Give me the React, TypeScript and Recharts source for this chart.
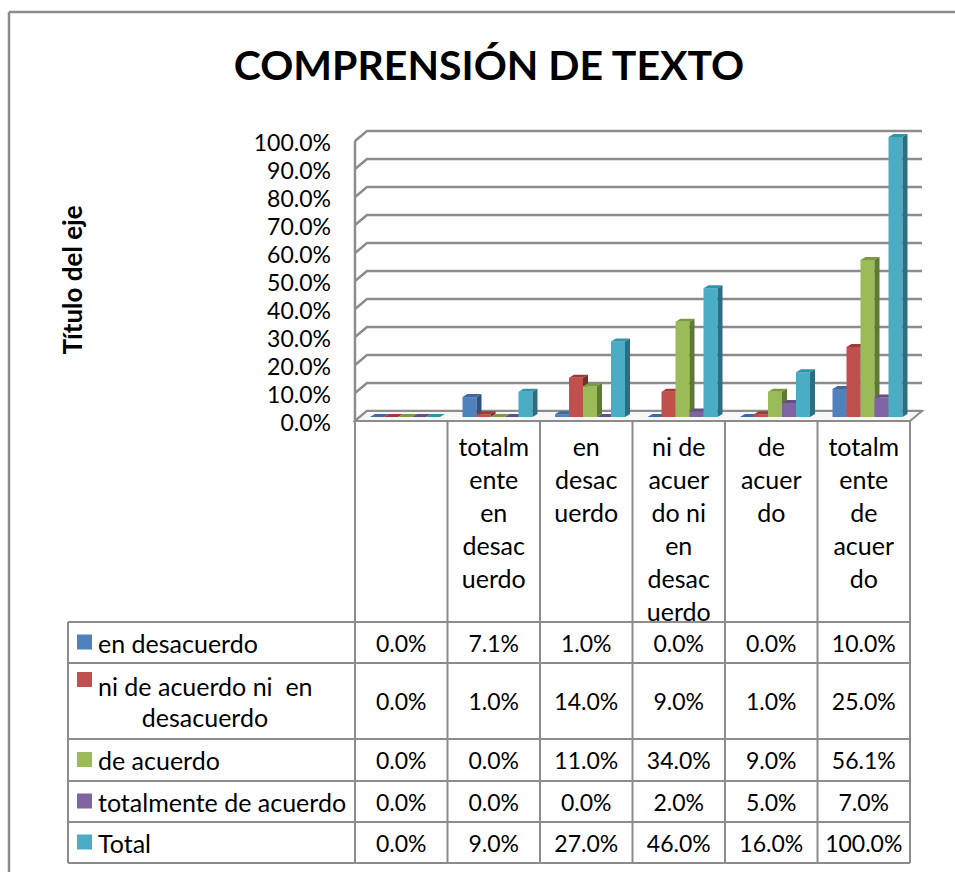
import React from 'react';
import { BarChart, Bar, XAxis, YAxis, CartesianGrid, ReferenceArea } from 'recharts';

const categories = ['', 'totalmente en desacuerdo', 'en desacuerdo', 'ni de acuerdo ni en desacuerdo', 'de acuerdo', 'totalmente de acuerdo'];
const categoryLabelLines = [
  [],
  ['totalm', 'ente', 'en', 'desac', 'uerdo'],
  ['en', 'desac', 'uerdo'],
  ['ni de', 'acuer', 'do ni', 'en', 'desac', 'uerdo'],
  ['de', 'acuer', 'do'],
  ['totalm', 'ente', 'de', 'acuer', 'do'],
];
const seriesNames = ['en desacuerdo', 'ni de acuerdo ni  en desacuerdo', 'de acuerdo', 'totalmente de acuerdo', 'Total'];
const legendLines = [['en desacuerdo'], ['ni de acuerdo ni  en', 'desacuerdo'], ['de acuerdo'], ['totalmente de acuerdo'], ['Total']];

const enDesacuerdo = [0, 7.1, 1.0, 0, 0, 10.0];
const niDeAcuerdoNiEnDesacuerdo = [0, 1.0, 14.0, 9.0, 1.0, 25.0];
const deAcuerdo = [0, 0, 11.0, 34.0, 9.0, 56.1];
const totalmenteDeAcuerdo = [0, 0, 0, 2.0, 5.0, 7.0];
const total = [0, 9.0, 27.0, 46.0, 16.0, 100.0];
const seriesValues = [enDesacuerdo, niDeAcuerdoNiEnDesacuerdo, deAcuerdo, totalmenteDeAcuerdo, total];

const yTicks = [0, 10, 20, 30, 40, 50, 60, 70, 80, 90, 100];

const colors = ['#4F81BD', '#C0504D', '#9BBB59', '#8064A2', '#4BACC6'];
const topColors = ['#3E6A9E', '#9E3B38', '#7C9A42', '#654E85', '#3690A8'];
const sideColors = ['#2F5281', '#7D2B29', '#5F7832', '#4C3A66', '#2A6F82'];

const data = categories.map((c, i) => {
  const row: any = { cat: c };
  seriesValues.forEach((s, k) => { row['s' + k] = s[i]; });
  return row;
});

const FONT = 'Lato, "Open Sans", sans-serif';
const GRID = '#8c8c8c';
const LEFT = 355, RIGHT = 910, TOP = 137, BOTTOM = 417;
const W = 955, H = 872;
const colW = (RIGHT - LEFT) / categories.length;
const rowLines = [622, 663, 739, 781, 822, 863];

const makeShape = (k: number) => (props: any) => {
  const { x, y, width, height } = props;
  if (x == null || y == null) return <g />;
  const X = x + 4;
  const w = width;
  const h = Math.max(height || 0, 0);
  const t = y;
  const base = y + h;
  const dx = 5, dy = 3;
  return (
    <g>
      {h > 0 && <rect x={X} y={t} width={w} height={h} fill={colors[k]} />}
      <polygon points={`${X},${t} ${X + dx},${t - dy} ${X + w + dx},${t - dy} ${X + w},${t}`} fill={topColors[k]} />
      {h > 0 && <polygon points={`${X + w},${t} ${X + w + dx},${t - dy} ${X + w + dx},${base - dy} ${X + w},${base}`} fill={sideColors[k]} />}
    </g>
  );
};

const gridLine = (p: any) => {
  const { x1, x2, y1, key } = p;
  return (
    <path key={key} d={`M${x1},${y1 + 4} L${x1 + 12},${y1 - 6} L${x2 + 12},${y1 - 6}`} stroke={GRID} strokeWidth={2.5} fill="none" />
  );
};

const Frame = (p: any) => {
  const { x, y, width, height } = p;
  const b = y + height;
  return (
    <g>
      <line x1={x} y1={y + 4} x2={x} y2={b + 4} stroke={GRID} strokeWidth={2.5} />
      <polygon points={`${x},${b + 4} ${x + width},${b + 4} ${x + width + 12},${b - 6} ${x + 12},${b - 6}`} fill="#f7f7f7" stroke={GRID} strokeWidth={2} />
    </g>
  );
};

const YTick = (p: any) => {
  const { y, payload } = p;
  return (
    <text x={331} y={y + 5} textAnchor="end" dominantBaseline="central" fontFamily={FONT} fontSize={23} fill="#000">
      {payload.value.toFixed(1) + '%'}
    </text>
  );
};

export default function App() {
  return (
    <div style={{ position: 'absolute', left: 0, top: 0, width: W, height: H, background: '#fff', overflow: 'hidden' }}>
      <div style={{ position: 'absolute', left: 0, top: 0 }}>
        <BarChart width={W} height={H} data={data} barSize={14} barGap={0}
          margin={{ top: TOP, bottom: H - BOTTOM, left: LEFT - 120, right: W - RIGHT }}>
          <CartesianGrid vertical={false} horizontal={gridLine} />
          <XAxis dataKey="cat" hide />
          <YAxis width={120} domain={[0, 100]} ticks={yTicks} tick={<YTick />} tickLine={false} axisLine={false} />
          <ReferenceArea y1={0} y2={100} shape={<Frame />} />
          {seriesNames.map((n, k) => (
            <Bar key={n} dataKey={'s' + k} name={n} fill={colors[k]} isAnimationActive={false} shape={makeShape(k)} />
          ))}
        </BarChart>
      </div>
      <svg width={W} height={H} style={{ position: 'absolute', left: 0, top: 0, pointerEvents: 'none' }}>
        <line x1={9} y1={12} x2={W} y2={12} stroke={GRID} strokeWidth={2.5} />
        <line x1={9} y1={12} x2={9} y2={H} stroke={GRID} strokeWidth={2.5} />
        <text x={489} y={64} textAnchor="middle" dominantBaseline="central" fontFamily={FONT} fontWeight="bold" fontSize={41} fill="#000">
          COMPRENSIÓN DE TEXTO
        </text>
        <text x={72} y={280} textAnchor="middle" dominantBaseline="central" fontFamily={FONT} fontWeight="bold" fontSize={26} fill="#000" transform="rotate(-90 72 280)">
          Título del eje
        </text>
        {categories.map((c, i) => (
          <line key={'v' + i} x1={LEFT + i * colW} y1={421} x2={LEFT + i * colW} y2={rowLines[rowLines.length - 1]} stroke={GRID} strokeWidth={2} />
        ))}
        <line x1={RIGHT} y1={421} x2={RIGHT} y2={rowLines[rowLines.length - 1]} stroke={GRID} strokeWidth={2} />
        <line x1={68} y1={rowLines[0]} x2={68} y2={rowLines[rowLines.length - 1]} stroke={GRID} strokeWidth={2} />
        {rowLines.map((y, i) => (
          <line key={'h' + i} x1={68} y1={y} x2={RIGHT} y2={y} stroke={GRID} strokeWidth={2} />
        ))}
        {categoryLabelLines.map((lines, i) => lines.map((ln, j) => (
          <text key={'c' + i + '-' + j} x={LEFT + (i + 0.5) * colW} y={446 + j * 33} textAnchor="middle" dominantBaseline="central" fontFamily={FONT} fontSize={25} fill="#000">{ln}</text>
        )))}
        {seriesNames.map((n, k) => {
          const y0 = rowLines[k], y1 = rowLines[k + 1];
          const cy = (y0 + y1) / 2;
          const lines = legendLines[k];
          return (
            <g key={'r' + k}>
              <rect x={77} y={lines.length > 1 ? 672 : cy - 8} width={15} height={15} fill={colors[k]} />
              {lines.length === 1 ? (
                <text x={98} y={cy} dominantBaseline="central" fontFamily={FONT} fontSize={25} fill="#000">{lines[0]}</text>
              ) : (
                lines.map((ln, j) => (
                  <text key={j} x={j === 0 ? 98 : 205} y={cy - 15 + j * 31} textAnchor={j === 0 ? 'start' : 'middle'} dominantBaseline="central" fontFamily={FONT} fontSize={25} fill="#000" style={{ whiteSpace: 'pre' }}>{ln}</text>
                ))
              )}
              {seriesValues[k].map((v, i) => (
                <text key={i} x={LEFT + (i + 0.5) * colW} y={cy} textAnchor="middle" dominantBaseline="central" fontFamily={FONT} fontSize={23} fill="#000">{v.toFixed(1) + '%'}</text>
              ))}
            </g>
          );
        })}
      </svg>
    </div>
  );
}
